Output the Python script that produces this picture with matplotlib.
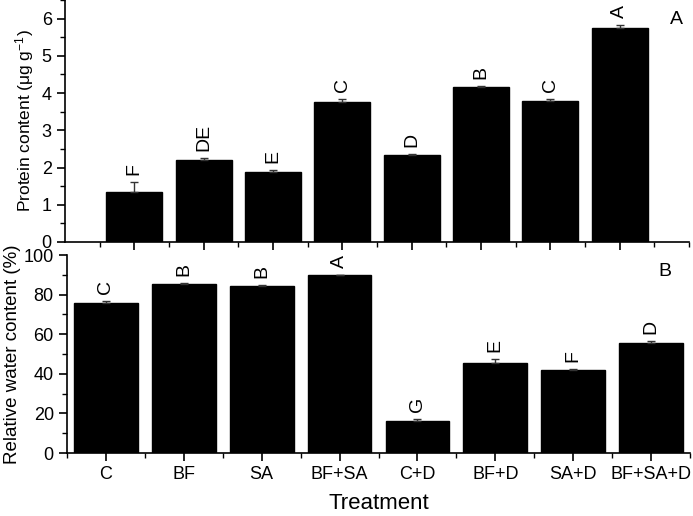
import matplotlib
matplotlib.use("Agg")
import matplotlib.pyplot as plt
from matplotlib.ticker import MultipleLocator, FixedLocator

plt.rcParams['font.family'] = ['Liberation Sans', 'DejaVu Sans']
plt.rcParams['mathtext.fontset'] = 'custom'
plt.rcParams['mathtext.rm'] = 'Liberation Sans'
plt.rcParams['mathtext.it'] = 'Liberation Sans:italic'
plt.rcParams['mathtext.default'] = 'regular'

treatments = ["C", "BF", "SA", "BF+SA", "C+D", "BF+D", "SA+D", "BF+SA+D"]

protein = [1.35, 2.21, 1.89, 3.77, 2.34, 4.17, 3.80, 5.74]
protein_err = [0.27, 0.04, 0.05, 0.07, 0.02, 0.02, 0.05, 0.08]
protein_letters = ["F", "DE", "E", "C", "D", "B", "C", "A"]

rwc = [75.9, 85.4, 84.2, 89.7, 16.3, 45.6, 42.0, 55.4]
rwc_err = [0.8, 0.3, 0.8, 0.3, 1.0, 1.7, 0.3, 1.3]
rwc_letters = ["C", "B", "B", "A", "G", "E", "F", "D"]

W, H = 693, 516
fig = plt.figure(figsize=(W / 100, H / 100), dpi=100)

ax1 = fig.add_axes([65 / W, 1 - 242 / H, (689 - 65) / W, 242 / H])
ax2 = fig.add_axes([67 / W, 1 - 453 / H, (690 - 67) / W, (453 - 255) / H])

pos = list(range(1, len(treatments) + 1))


def style(ax):
    for s in ["top", "right"]:
        ax.spines[s].set_visible(False)
    for s in ["left", "bottom"]:
        ax.spines[s].set_linewidth(1.2)
    ax.tick_params(which="major", direction="out", length=6, width=1.2, labelsize=13)
    ax.tick_params(which="minor", direction="out", length=3.5, width=1.0)


# Top panel
ax1.bar(pos, protein, width=0.81, color="black", edgecolor="black", zorder=2)
ax1.errorbar(pos, protein, yerr=[[0] * len(pos), protein_err], fmt="none",
             ecolor="#333333", elinewidth=1, capsize=3, capthick=1, zorder=3)
for x, v, e, l in zip(pos, protein, protein_err, protein_letters):
    ax1.annotate(l, (x, v + e), xytext=(0, 5), textcoords="offset points",
                 rotation=90, ha="center", va="bottom", fontsize=14)
ax1.set_xlim(0, 9)
ax1.set_ylim(0, 6.5)
ax1.xaxis.set_major_locator(FixedLocator(pos))
ax1.xaxis.set_minor_locator(FixedLocator([p - 0.5 for p in pos] + [8.5, 9]))
ax1.set_xticklabels([])
ax1.yaxis.set_major_locator(MultipleLocator(1))
ax1.yaxis.set_minor_locator(MultipleLocator(0.5))
style(ax1)
ax1.set_ylabel("Protein content (μg g$^{-1}$)", fontsize=12.5)
ax1.yaxis.set_label_coords(-0.047, 0.5)
ax1.text(676 / W, 1 - 20 / H, "A", transform=fig.transFigure, fontsize=14,
         ha="center", va="center")

# Bottom panel
ax2.bar(pos, rwc, width=0.82, color="black", edgecolor="black", zorder=2)
ax2.errorbar(pos, rwc, yerr=[[0] * len(pos), rwc_err], fmt="none",
             ecolor="#333333", elinewidth=1, capsize=3, capthick=1, zorder=3)
for x, v, e, l in zip(pos, rwc, rwc_err, rwc_letters):
    ax2.annotate(l, (x, v + e), xytext=(0, 5), textcoords="offset points",
                 rotation=90, ha="center", va="bottom", fontsize=14)
ax2.set_xlim(0.5, 8.5)
ax2.set_ylim(0, 100)
ax2.xaxis.set_major_locator(FixedLocator(pos))
ax2.xaxis.set_minor_locator(FixedLocator([p + 0.5 for p in [0] + pos]))
ax2.set_xticklabels(treatments)
ax2.yaxis.set_major_locator(MultipleLocator(20))
ax2.yaxis.set_minor_locator(MultipleLocator(10))
style(ax2)
ax2.set_ylabel("Relative water content (%)", fontsize=13.5)
ax2.yaxis.set_label_coords(-0.074, 0.5)
ax2.set_xlabel("Treatment", fontsize=16, labelpad=7)
ax2.text(665 / W, 1 - 272 / H, "B", transform=fig.transFigure, fontsize=14,
         ha="center", va="center")

fig.savefig("out.png", dpi=100)
